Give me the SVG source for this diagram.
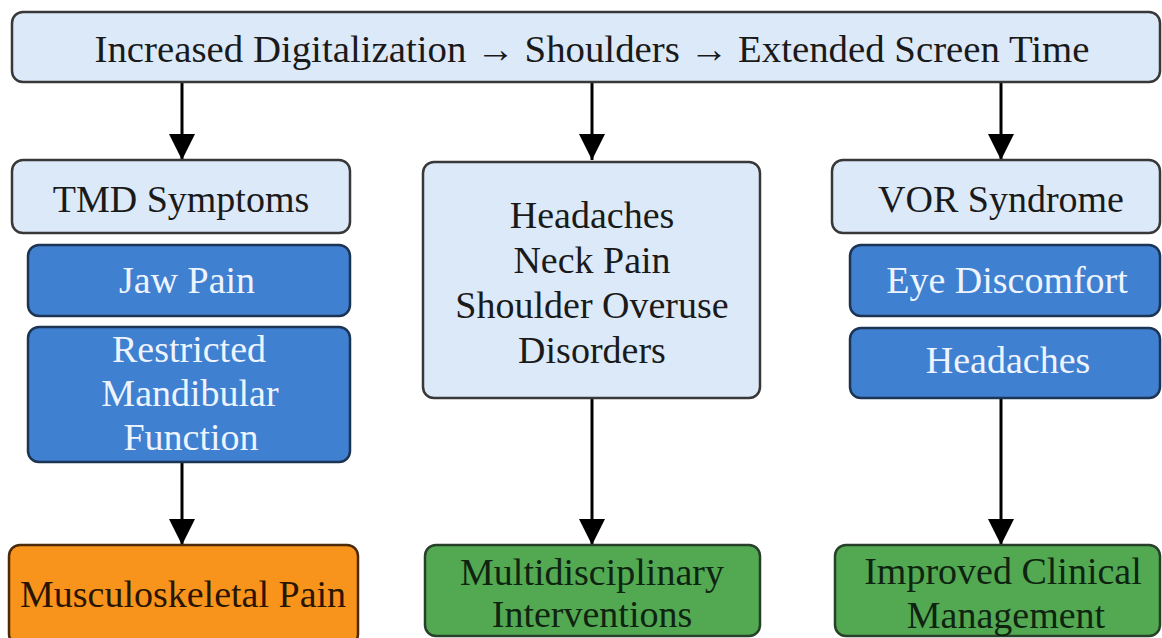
<svg xmlns="http://www.w3.org/2000/svg" width="1162" height="638" viewBox="0 0 1162 638">
<style>
text{font-family:"Liberation Serif","Times New Roman",serif;font-size:38px;text-anchor:middle}
.lb{fill:#dce9f8;stroke:#383838;stroke-width:2.5}
.bl{fill:#3f80d0;stroke:#1d3454;stroke-width:2.5}
.or{fill:#f8941c;stroke:#4a2a08;stroke-width:2.5}
.gr{fill:#53a852;stroke:#26402a;stroke-width:2.5}
.dk{fill:#1a1a1a}
.wt{fill:#eef4ff}
.conn line{stroke:#000;stroke-width:3;marker-end:url(#ah)}
</style>
<defs>
<marker id="ah" markerUnits="userSpaceOnUse" markerWidth="26" markerHeight="26" refX="26" refY="13" orient="auto">
<path d="M0,0 L26,13 L0,26 z" fill="#000"/>
</marker>
</defs>
<rect width="1162" height="638" fill="#fff"/>
<g class="conn">
<line x1="182" y1="83" x2="182" y2="160"/>
<line x1="592" y1="83" x2="592" y2="160"/>
<line x1="1001" y1="83" x2="1001" y2="160"/>
<line x1="182" y1="462" x2="182" y2="545"/>
<line x1="592" y1="398" x2="592" y2="545"/>
<line x1="1001" y1="398" x2="1001" y2="545"/>
</g>
<g id="top">
<rect class="lb" x="12" y="12" width="1148" height="70" rx="11"/>
<text class="dk" x="592" y="62" textLength="995" lengthAdjust="spacingAndGlyphs">Increased Digitalization → Shoulders → Extended Screen Time</text>
</g>
<g id="tmd">
<rect class="lb" x="12" y="160" width="338" height="73" rx="11"/>
<text class="dk" x="181" y="212">TMD Symptoms</text>
</g>
<g id="jaw">
<rect class="bl" x="28" y="245" width="322" height="71" rx="11"/>
<text class="wt" x="187" y="293">Jaw Pain</text>
</g>
<g id="restricted">
<rect class="bl" x="28" y="327" width="322" height="135" rx="11"/>
<text class="wt" x="189" y="362">Restricted</text>
<text class="wt" x="190" y="406">Mandibular</text>
<text class="wt" x="191" y="450">Function</text>
</g>
<g id="middle">
<rect class="lb" x="423" y="162" width="337" height="236" rx="11"/>
<text class="dk" x="592" y="228">Headaches</text>
<text class="dk" x="592" y="273">Neck Pain</text>
<text class="dk" x="592" y="318">Shoulder Overuse</text>
<text class="dk" x="592" y="363">Disorders</text>
</g>
<g id="vor">
<rect class="lb" x="832" y="160" width="328" height="73" rx="11"/>
<text class="dk" x="1001" y="212">VOR Syndrome</text>
</g>
<g id="eye">
<rect class="bl" x="850" y="245" width="310" height="71" rx="11"/>
<text class="wt" x="1007" y="293">Eye Discomfort</text>
</g>
<g id="headaches2">
<rect class="bl" x="850" y="328" width="310" height="70" rx="11"/>
<text class="wt" x="1008" y="373">Headaches</text>
</g>
<g id="msk">
<rect class="or" x="9" y="545" width="349" height="100" rx="11"/>
<text class="dk" x="183" y="607" style="fill:#2a1500">Musculoskeletal Pain</text>
</g>
<g id="multi">
<rect class="gr" x="425" y="545" width="335" height="91" rx="11"/>
<text class="dk" x="592" y="585" style="fill:#0f2410">Multidisciplinary</text>
<text class="dk" x="592" y="627" style="fill:#0f2410">Interventions</text>
</g>
<g id="improved">
<rect class="gr" x="835" y="545" width="325" height="91" rx="11"/>
<text class="dk" x="1003" y="584" style="fill:#0f2410">Improved Clinical</text>
<text class="dk" x="1006" y="628" style="fill:#0f2410">Management</text>
</g>
</svg>
